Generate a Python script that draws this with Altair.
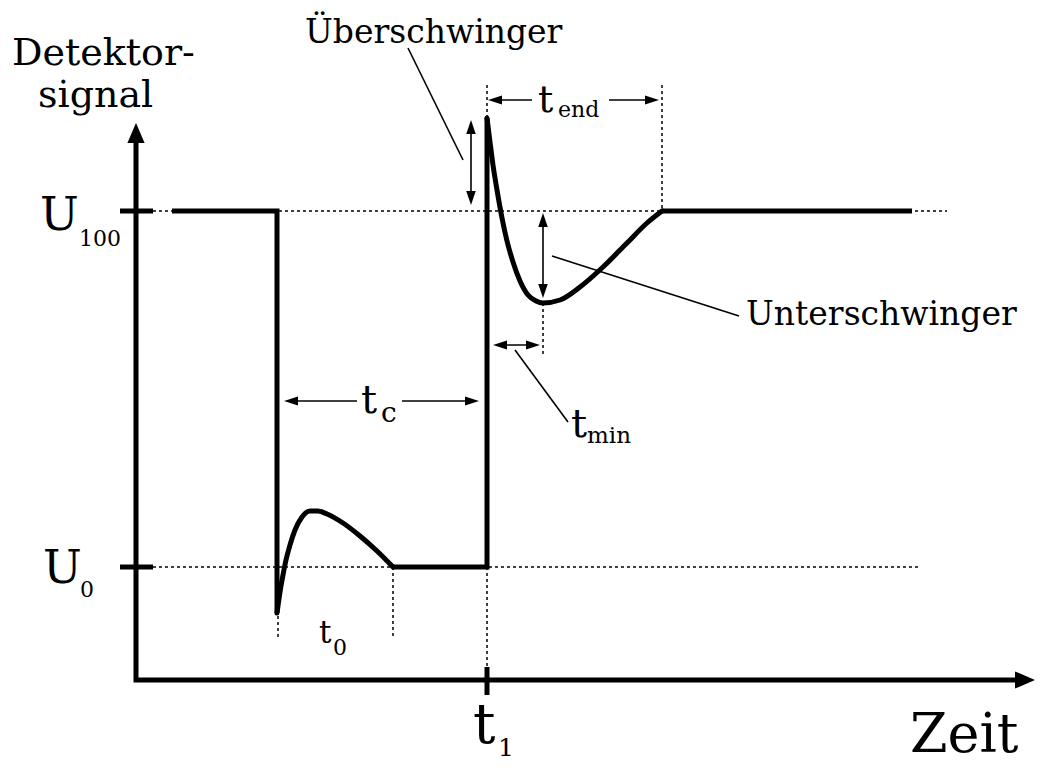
import altair as alt
import pandas as pd

# ---------------- diagram geometry (image-space units) ----------------
# thick straight polylines: signal plateaus / jumps and the two axes
poly_id = ["s1", "s1", "s1", "s2", "s2", "s2", "s3", "s3", "ax", "ax", "ax"]
poly_x = [172, 277, 277, 393, 487, 487, 662, 912, 136, 136, 1022]
poly_y = [211, 211, 613, 567, 567, 118, 211, 211, 143, 680, 680]

# curved parts of the signal
c1_x = [277, 280, 283, 286, 290, 295, 302, 310, 318, 327, 343, 360, 377, 393]
c1_y = [613, 592, 575, 560, 545, 530, 517, 511, 511, 514, 523, 536, 551, 567]
c2_x = [487, 490, 493, 497, 502, 507, 513, 520, 528, 536, 543, 560, 580, 603, 627, 647, 662]
c2_y = [118, 142, 165, 190, 218, 241, 262, 281, 295, 301, 303, 300, 287, 267, 243, 223, 211]

# thick axis ticks
tick_x = [120, 120, 487]
tick_x2 = [153, 153, 487]
tick_y = [211, 567, 667]
tick_y2 = [211, 567, 695]

# dotted guide lines
dot_x = [153, 153, 278, 393, 487, 487, 662, 543]
dot_x2 = [947, 918, 278, 393, 487, 487, 662, 543]
dot_y = [211, 567, 616, 567, 567, 85, 85, 303]
dot_y2 = [211, 567, 637, 637, 667, 118, 211, 357]

# thin solid lines: arrow shafts and leader lines
thin_x = [471, 543, 495, 609, 290, 402, 498, 408, 552, 515]
thin_x2 = [471, 543, 532, 653, 357, 473, 535, 463, 739, 568]
thin_y = [125, 218, 100, 100, 401, 401, 345, 48, 256, 350]
thin_y2 = [200, 294, 100, 100, 401, 401, 345, 160, 316, 422]

# arrow heads (tip position and direction)
big_tip_x = [136, 1035]
big_tip_y = [123, 680]
big_dir = ["up", "right"]
small_tip_x = [471, 471, 543, 543, 488, 659, 284, 479, 493, 540]
small_tip_y = [120, 205, 213, 298, 100, 100, 401, 401, 345, 345]
small_dir = ["up", "down", "up", "down", "left", "right", "left", "right", "left", "right"]

# labels
lab_text = ["Detektor-", "signal", "Überschwinger", "Unterschwinger",
            "U", "100", "U", "0",
            "t", "0", "t", "c", "t", "end", "t", "min", "t", "1", "Zeit"]
lab_x = [12, 38, 305, 746, 40, 79, 43, 80, 319, 333, 361, 381, 538, 558, 571, 587, 473, 498, 910]
lab_y = [65, 107, 43, 325, 230, 246, 583, 597, 643, 655, 413, 422, 112, 117, 437, 443, 743, 756, 752]
lab_size = [38, 38, 33, 33, 46, 22, 46, 22, 31, 22, 40, 28, 38, 22, 40, 23, 56, 25, 54]

# ---------------- build tables ----------------
poly = pd.DataFrame({"id": poly_id, "x": poly_x, "y": poly_y, "i": range(len(poly_x))})
curves = pd.concat([
    pd.DataFrame({"id": "c1", "x": c1_x, "y": c1_y, "i": range(len(c1_x))}),
    pd.DataFrame({"id": "c2", "x": c2_x, "y": c2_y, "i": range(len(c2_x))}),
])
ticks = pd.DataFrame({"x": tick_x, "x2": tick_x2, "y": tick_y, "y2": tick_y2})
dots = pd.DataFrame({"x": dot_x, "x2": dot_x2, "y": dot_y, "y2": dot_y2})
thin = pd.DataFrame({"x": thin_x, "x2": thin_x2, "y": thin_y, "y2": thin_y2})

big_paths = {
    "up": "M0,0L-0.43,1L0.43,1Z",
    "down": "M0,0L-0.43,-1L0.43,-1Z",
    "right": "M0,0L-1,-0.43L-1,0.43Z",
    "left": "M0,0L1,-0.43L1,0.43Z",
}
small_paths = {
    "up": "M0,0L-0.34,1L0.34,1Z",
    "down": "M0,0L-0.34,-1L0.34,-1Z",
    "right": "M0,0L-1,-0.32L-1,0.32Z",
    "left": "M0,0L1,-0.32L1,0.32Z",
}
heads = pd.concat([
    pd.DataFrame({"x": big_tip_x, "y": big_tip_y,
                  "shape": [big_paths[d] for d in big_dir], "size": 1600}),
    pd.DataFrame({"x": small_tip_x, "y": small_tip_y,
                  "shape": [small_paths[d] for d in small_dir], "size": 784}),
])
labels = pd.DataFrame({"text": lab_text, "x": lab_x, "y": lab_y, "size": lab_size})

xs = alt.Scale(domain=[8, 1035], nice=False, zero=False)
ys = alt.Scale(domain=[8, 768], nice=False, zero=False, reverse=True)
X = alt.X("x:Q", scale=xs, axis=None)
Y = alt.Y("y:Q", scale=ys, axis=None)

dotted = alt.Chart(dots).mark_rule(color="black", strokeWidth=1.5, strokeDash=[3, 3]).encode(
    x=X, y=Y, x2="x2:Q", y2="y2:Q")
thin_lines = alt.Chart(thin).mark_rule(color="black", strokeWidth=1.6).encode(
    x=X, y=Y, x2="x2:Q", y2="y2:Q")
tick_lines = alt.Chart(ticks).mark_rule(color="black", strokeWidth=5).encode(
    x=X, y=Y, x2="x2:Q", y2="y2:Q")
straight = alt.Chart(poly).mark_line(color="black", strokeWidth=5, strokeJoin="miter").encode(
    x=X, y=Y, detail="id:N", order="i:Q")
curved = alt.Chart(curves).mark_line(color="black", strokeWidth=5, interpolate="monotone",
                                     strokeCap="round").encode(
    x=X, y=Y, detail="id:N", order="i:Q")
arrows = alt.Chart(heads).mark_point(filled=True, color="black", opacity=1, strokeWidth=0).encode(
    x=X, y=Y, shape=alt.Shape("shape:N", scale=None), size=alt.Size("size:Q", scale=None))
texts = alt.Chart(labels).mark_text(align="left", baseline="alphabetic", font="DejaVu Serif",
                                    color="black").encode(
    x=X, y=Y, text="text:N", size=alt.Size("size:Q", scale=None))

chart = alt.layer(dotted, thin_lines, tick_lines, straight, curved, arrows, texts).properties(
    width=1027, height=760, padding=0,
    autosize=alt.AutoSizeParams(type="none"),
    background="white",
).configure_view(stroke=None)

chart.save("out.html", embed_options={"renderer": "svg", "actions": False})
